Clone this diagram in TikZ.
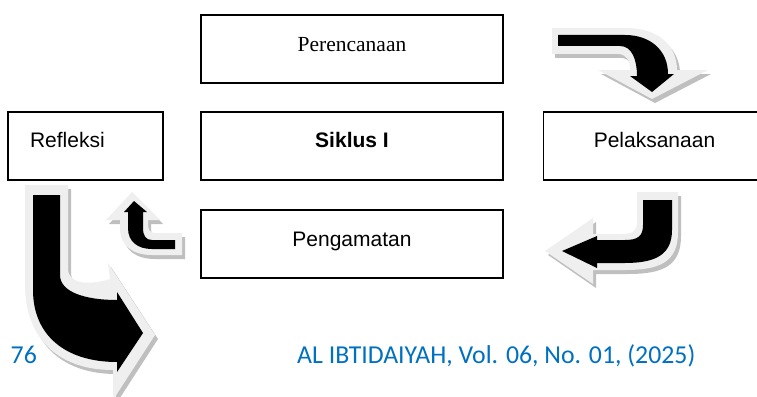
\documentclass[tikz,border=0pt]{standalone}
\usepackage{fontspec}
\setmainfont{Liberation Sans}
\newfontfamily\timesf{Liberation Serif}
\newfontfamily\calibf{Carlito}
\definecolor{lightc}{HTML}{EFEFEF}
\definecolor{shadc}{HTML}{BFBFBF}
\definecolor{footblue}{HTML}{0070C0}
% arrow A : Perencanaan -> Pelaksanaan (top right)
\newcommand\ArrAout[1]{\fill[#1] (552,28) -- (627,28) .. controls (657,28) and (677,45) .. (677,70) -- (708,70) -- (652,99) -- (598,70) -- (630,70) .. controls (630,60) and (626,54) .. (618,54) -- (552,54) -- cycle;}
\newcommand\ArrAin[1]{\fill[#1] (558,35) -- (625,35) .. controls (650,35) and (668,50) .. (668,74) -- (674,74) -- (652,92) -- (630,76) -- (637,76) .. controls (637,60) and (632,46) .. (620,46) -- (558,46) -- cycle;}
% arrow B : Pelaksanaan -> Pengamatan (right)
\newcommand\ArrBout[1]{\fill[#1] (637,192) -- (678,192) -- (678,232) .. controls (678,262) and (660,270) .. (625,270) -- (593,270) -- (593,284) -- (545,251) -- (593,218) -- (593,234) -- (622,234) .. controls (634,234) and (637,230) .. (637,222) -- cycle;}
\newcommand\ArrBin[1]{\fill[#1] (643,200) -- (672,200) -- (672,230) .. controls (672,255) and (655,263) .. (625,263) -- (597,263) -- (597,268) -- (562,251) -- (597,236) -- (597,240) -- (625,240) .. controls (638,240) and (643,236) .. (643,225) -- cycle;}
% arrow C : Pengamatan -> Refleksi (small)
\newcommand\ArrCout[1]{\fill[#1] (182,233) -- (155,233) .. controls (150,233) and (148,230) .. (148,224) -- (148,220) -- (160,220) -- (132,192) -- (106,220) -- (120,220) -- (120,228) .. controls (120,246) and (133,255) .. (152,255) -- (182,255) -- cycle;}
\newcommand\ArrCin[1]{\fill[#1] (175,240) -- (152,240) .. controls (146,240) and (143,236) .. (143,228) -- (143,212) -- (147,212) -- (134,201) -- (124,212) -- (128,212) -- (128,228) .. controls (128,242) and (138,249) .. (152,249) -- (175,249) -- cycle;}
% arrow D : Refleksi -> next cycle (big)
\newcommand\ArrDout[1]{\fill[#1] (25,185) -- (68,185) -- (68,270) .. controls (70,285) and (90,285) .. (110,279) -- (108,263) -- (155,335) -- (113,400) -- (113,370) .. controls (55,370) and (25,335) .. (25,285) -- cycle;}
\newcommand\ArrDin[1]{\fill[#1] (33,195) -- (60,195) -- (60,275) .. controls (60,292) and (85,300) .. (117,300) -- (117,292) -- (143,333) -- (117,372) -- (117,362) .. controls (65,362) and (33,335) .. (33,290) -- cycle;}
\begin{document}
\begin{tikzpicture}[x=1pt,y=-1pt,
  boxsty/.style={draw=black, line width=1.6pt, fill=white, rectangle, inner sep=0pt, minimum height=68pt},
  sanslbl/.style={font=\fontsize{21}{25}\selectfont, text height=15pt, text depth=12pt},
  footsty/.style={anchor=base west, inner sep=0pt, text=footblue, font=\calibf\fontsize{25.8}{30}\selectfont},
  shadsty/.style={shadc, shift={(3,4)}},
  lightsty/.style={lightc},
  blacksty/.style={black}]
\useasboundingbox (0,0) rectangle (757,396);
\clip (0,0) rectangle (757,396);
% boxes
\node[boxsty, minimum width=302pt, font=\timesf\fontsize{21.5}{25}\selectfont, text height=14pt, text depth=8pt] (plan) at (352,49) {Perencanaan};
\node[boxsty, sanslbl, inner xsep=22pt, text width=111pt, align=left] (refl) at (85.5,146) {Refleksi};
\node[boxsty, sanslbl, minimum width=302pt, font=\bfseries\fontsize{21}{25}\selectfont] (siklus) at (352,146) {Siklus I};
\node[boxsty, sanslbl, minimum width=222pt] (pelak) at (654.5,146) {Pelaksanaan};
\node[boxsty, sanslbl, minimum width=302pt, text depth=11pt] (peng) at (352,244) {Pengamatan};
% block arrows
\ArrAout{shadsty}\ArrAout{lightsty}\ArrAin{blacksty}
\ArrBout{shadsty}\ArrBout{lightsty}\ArrBin{blacksty}
\ArrCout{shadsty}\ArrCout{lightsty}\ArrCin{blacksty}
% footer
\node[footsty] (pgno) at (10.5,363) {76};
\node[footsty] (journal) at (297,363) {AL IBTIDAIYAH, Vol. 06, No. 01, (2025)};
\ArrDout{shadsty}\ArrDout{lightsty}\ArrDin{blacksty}
\end{tikzpicture}
\end{document}
